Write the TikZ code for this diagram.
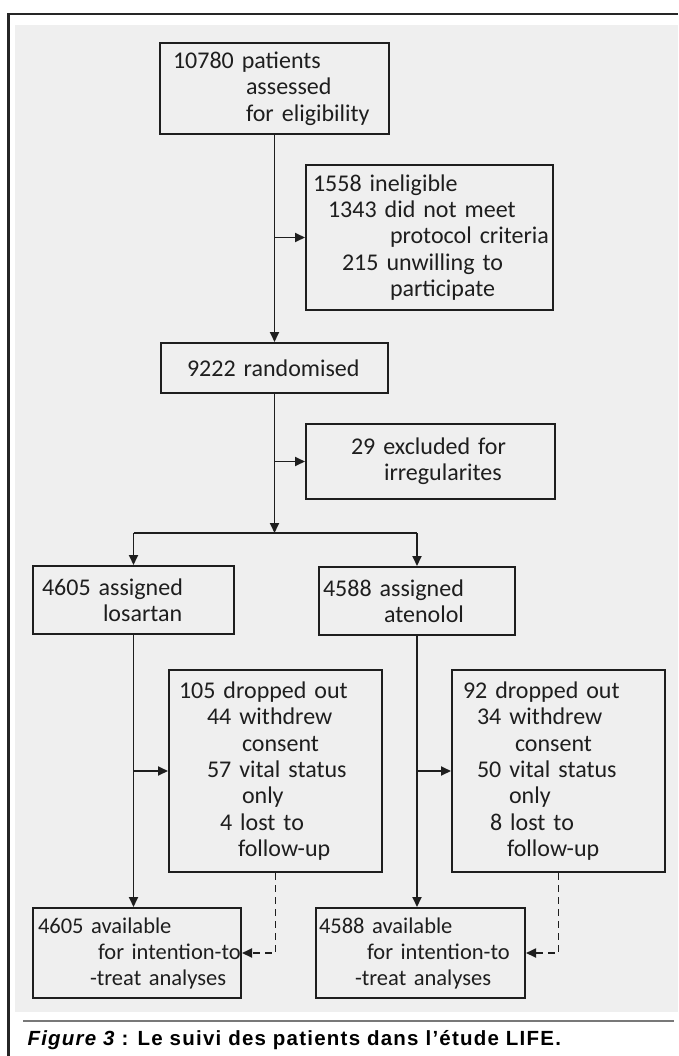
\documentclass[tikz,border=0pt]{standalone}
\usepackage{fontspec}
\setmainfont{Carlito}
\newfontfamily\capfont[LetterSpace=6]{Liberation Sans}
\usetikzlibrary{arrows.meta,positioning,calc}
\definecolor{panelgray}{RGB}{239,239,239}
\definecolor{inkgray}{RGB}{30,30,30}
\definecolor{rulegray}{RGB}{120,120,120}
\newcommand{\ind}[1]{\hspace*{#1pt}}
\tikzset{
  pbox/.style={draw=inkgray, line width=2pt, rectangle, anchor=north west, inner sep=0pt,
    align=left, font=\fontsize{24}{26.3}\selectfont, text=inkgray},
  abox/.style={pbox, font=\fontsize{22.5}{26}\selectfont},
  parr/.style={-{Triangle[length=10pt,width=9pt]}, inkgray, line width=1.8pt},
  pdsh/.style={parr, dash pattern=on 7pt off 5pt},
  pln/.style={inkgray, line width=1.8pt},
}

\begin{document}
\begin{tikzpicture}[x=1pt,y=-1pt]
\useasboundingbox (0,0) rectangle (678,1056);
% frame and panel
\fill[panelgray] (15,25) rectangle (678,1012);
\draw[line width=2.4pt, black!85] (8.5,1056) -- (8.5,14) -- (678,14);
\draw[rulegray, line width=1.6pt] (23,1021) -- (674,1021);

% boxes
\node[pbox, text width=229pt, minimum height=91pt] (elig) at (159,42)
  {\ind{13}10780 patients\\ \ind{86}assessed\\ \ind{86}for eligibility};
\node[pbox, text width=247pt, minimum height=145pt] (inel) at (305,164)
  {\ind{7}1558 ineligible\\ \ind{22}1343 did not meet\\ \ind{84}protocol criteria\\
   \ind{36}215 unwilling to\\ \ind{84}participate};
\node[pbox, text width=227pt, minimum height=50pt] (rand) at (160,342)
  {\ind{26}9222 randomised};
\node[pbox, text width=249pt, minimum height=75pt] (excl) at (305,423)
  {\ind{45}29 excluded for\\ \ind{78}irregularites};
\node[pbox, text width=201pt, minimum height=68pt] (losa) at (32,565)
  {\ind{9}4605 assigned\\ \ind{70}losartan};
\node[pbox, text width=196pt, minimum height=68pt] (aten) at (318,566)
  {\ind{4}4588 assigned\\ \ind{65}atenolol};
\node[pbox, text width=213pt, minimum height=202pt] (dropL) at (168,669)
  {\ind{10}105 dropped out\\ \ind{38}44 withdrew\\ \ind{73}consent\\ \ind{38}57 vital status\\
   \ind{73}only\\ \ind{51}4 lost to\\ \ind{69}follow-up};
\node[pbox, text width=213pt, minimum height=202pt] (dropR) at (451,669)
  {\ind{11}92 dropped out\\ \ind{25}34 withdrew\\ \ind{63}consent\\ \ind{25}50 vital status\\
   \ind{57}only\\ \ind{38}8 lost to\\ \ind{55}follow-up};
\node[abox, text width=208pt, minimum height=90pt] (availL) at (32,907)
  {\ind{5}4605 available\\ \ind{65}for intention-to\\ \ind{57}-treat analyses};
\node[abox, text width=209pt, minimum height=90pt] (availR) at (315,907)
  {\ind{3}4588 available\\ \ind{51}for intention-to\\ \ind{39}-treat analyses};

% connectors
\draw[parr] (elig.south) -- (rand.north);
\draw[parr] (inel.west -| elig.south) -- (inel.west);
\coordinate (split) at ($(rand.south)+(0,139)$);
\draw[parr] (rand.south) -- (split);
\draw[parr] (excl.west -| rand.south) -- (excl.west);
\draw[pln] (split -| losa.north) -- (split -| aten.north);
\draw[parr] (split -| losa.north) -- (losa.north);
\draw[parr] (split -| aten.north) -- (aten.north);
\draw[parr] (losa.south) -- (losa.south |- availL.north);
\draw[parr] (aten.south) -- (aten.south |- availR.north);
\draw[parr] (dropL.west -| losa.south) -- (dropL.west);
\draw[parr] (dropR.west -| aten.south) -- (dropR.west);
\draw[pdsh] (dropL.south) -- (dropL.south |- availL.east) -- (availL.east);
\draw[pdsh] (dropR.south) -- (dropR.south |- availR.east) -- (availR.east);

% caption
\node[anchor=west, font=\capfont\fontsize{20.5}{24}\selectfont\bfseries] (capt) at (24,1040)
  {\itshape Figure 3\upshape{} : Le suivi des patients dans l’étude LIFE.};
\end{tikzpicture}
\end{document}
